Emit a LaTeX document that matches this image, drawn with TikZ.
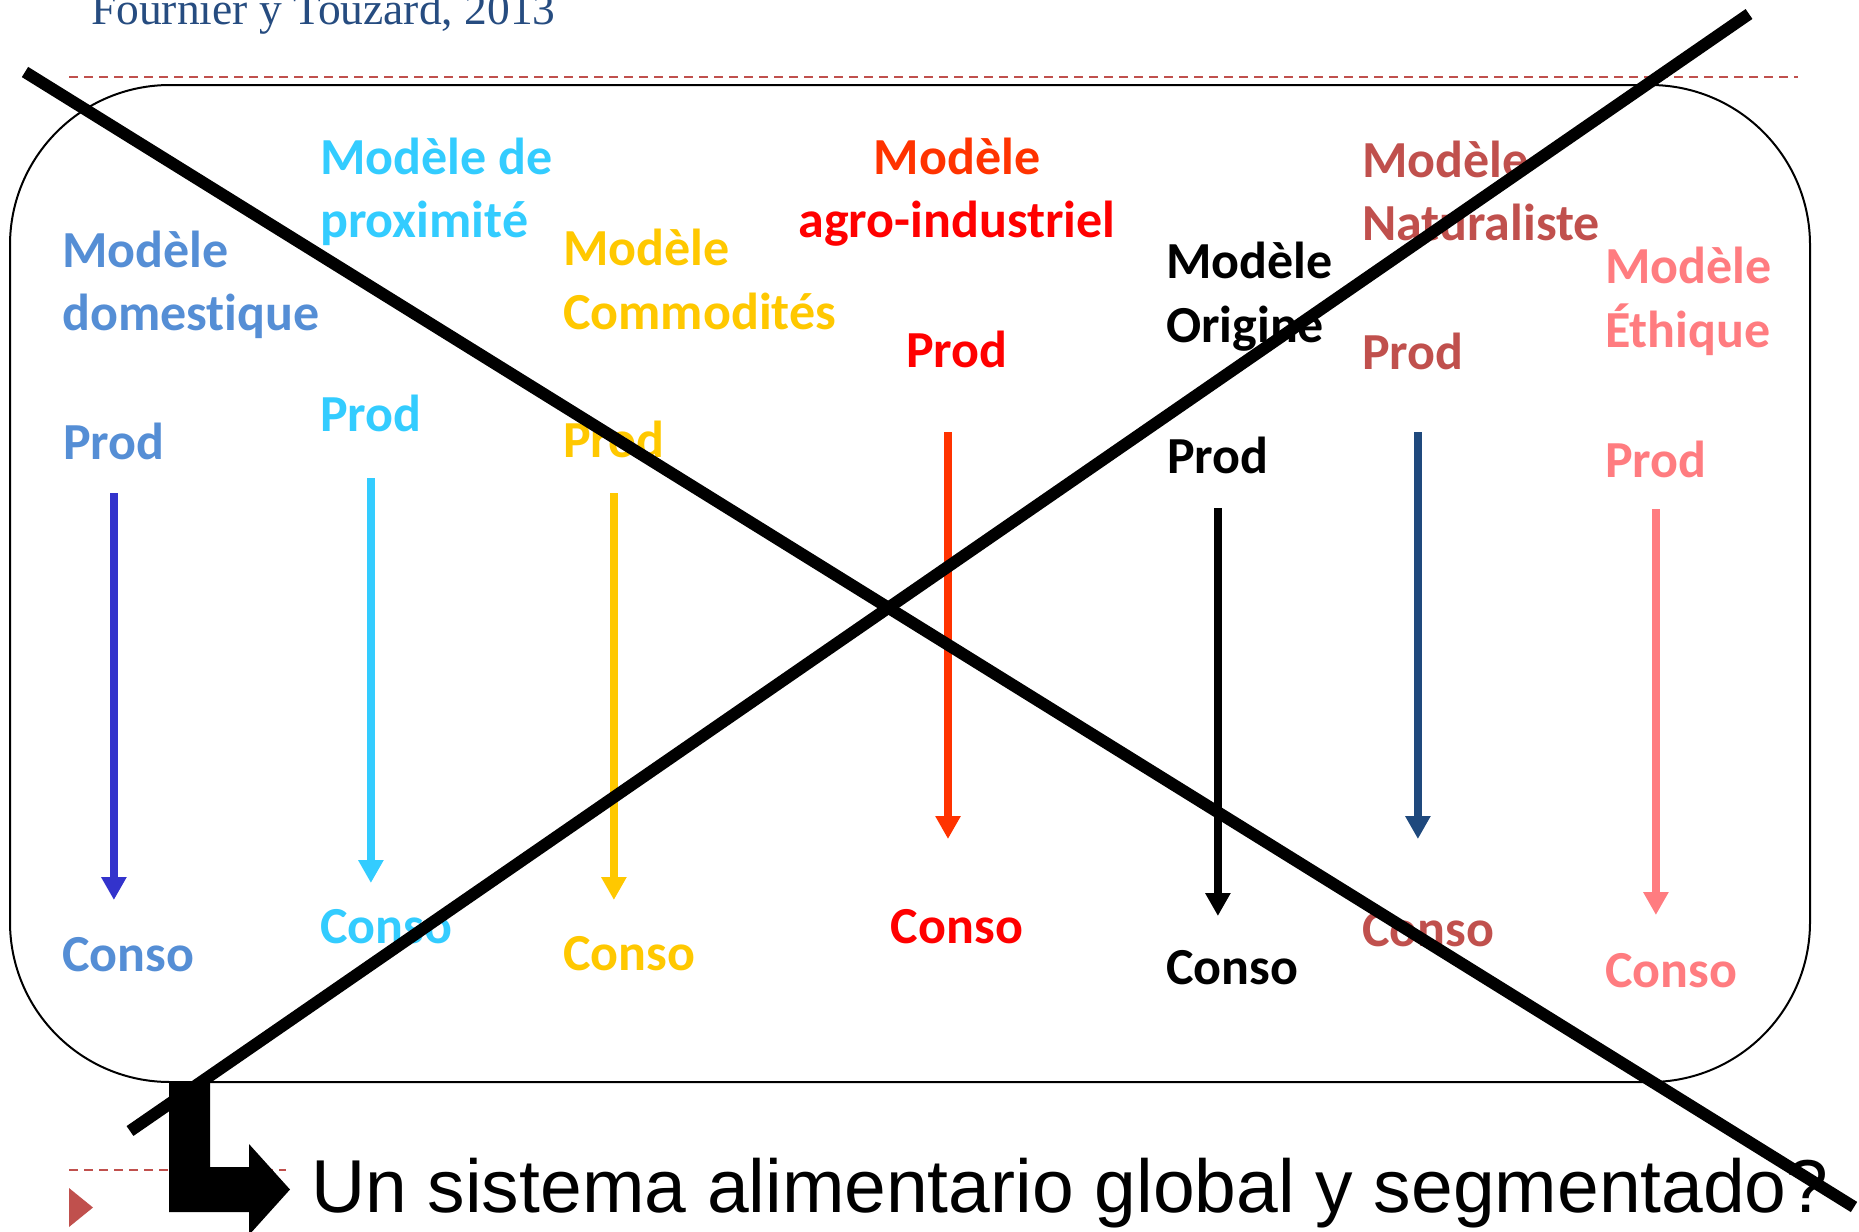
\documentclass[tikz,border=0pt]{standalone}
\usepackage{fontspec}
\setmainfont{Carlito}[Ligatures=NoCommon]
\newfontfamily\arialfont{Liberation Sans}
\newfontfamily\seriffont{Liberation Serif}
\usetikzlibrary{arrows.meta}
\definecolor{titleblue}{HTML}{264C80}
\definecolor{domblue}{HTML}{558ED5}
\definecolor{domarrow}{HTML}{3333CC}
\definecolor{proxblue}{HTML}{33CCFF}
\definecolor{commgold}{HTML}{FFC800}
\definecolor{agroorange}{HTML}{FF3300}
\definecolor{agrored}{HTML}{FF0000}
\definecolor{natured}{HTML}{C0504D}
\definecolor{natuarrow}{HTML}{1F497D}
\definecolor{ethipink}{HTML}{FF7C80}

\begin{document}
\begin{tikzpicture}[x=1pt, y=-1pt,
    lbl/.style={font=\fontsize{52}{62}\selectfont\bfseries, inner sep=0pt, anchor=base west},
    mid/.style={lbl, anchor=base},
    arr/.style={-{Triangle[width=24pt,length=23pt]}, line width=7.5pt},
    cross/.style={line width=12pt},
    sep/.style={draw=natured, line width=2pt, dash pattern=on 9pt off 6pt}]
    \useasboundingbox (0,0) rectangle (1859,1231);

    % source and frame
    \node[font=\seriffont\fontsize{45.5}{54}\selectfont, text=titleblue, inner sep=0pt, anchor=base west] (src) at (91,25) {Fournier y Touzard, 2013};
    \draw[sep] (69,77) -- (1798,77);
    \draw[sep] (69,1170) -- (286,1170);
    \draw[line width=2pt, rounded corners=160pt] (10,85) rectangle (1810,1082);

    % domestique
    \node[lbl, text=domblue] (domA) at (62,267) {Modèle};
    \node[lbl, text=domblue] (domB) at (62,330) {domestique};
    \node[lbl, text=domblue] (domP) at (63,459) {Prod};
    \node[lbl, text=domblue] (domC) at (62,971) {Conso};
    \draw[arr, domarrow, shorten <=34pt, shorten >=71pt] (domP.base) -- (domP.base |- domC.base);

    % proximite
    \node[lbl, text=proxblue] (proxA) at (320,174) {Modèle de};
    \node[lbl, text=proxblue] (proxB) at (320,237) {proximité};
    \node[lbl, text=proxblue] (proxP) at (320,431) {Prod};
    \node[lbl, text=proxblue] (proxC) at (320,943) {Conso};
    \draw[arr, proxblue, shorten <=47pt, shorten >=60pt] (proxP.base) -- (proxP.base |- proxC.base);

    % commodites
    \node[lbl, text=commgold] (commA) at (563,265) {Modèle};
    \node[lbl, text=commgold] (commB) at (563,329) {Commodités};
    \node[lbl, text=commgold] (commP) at (563,457) {Prod};
    \node[lbl, text=commgold] (commC) at (563,970) {Conso};
    \draw[arr, commgold, shorten <=36pt, shorten >=70pt] (commP.base) -- (commP.base |- commC.base);

    % agro-industriel
    \node[mid, text=agroorange] (agroA) at (957,174) {Modèle};
    \node[mid, text=agrored] (agroB) at (957,237) {agro-industriel};
    \node[mid, text=agrored] (agroP) at (957,367) {Prod};
    \node[mid, text=agrored] (agroC) at (957,943) {Conso};
    \draw[arr, agroorange, shorten <=65pt, shorten >=104pt] ([xshift=-9pt]agroP.base) -- ([xshift=-9pt]agroP.base |- agroC.base);

    % origine
    \node[lbl] (origA) at (1166,278) {Modèle};
    \node[lbl] (origB) at (1166,342) {Origine};
    \node[lbl] (origP) at (1167,473) {Prod};
    \node[lbl] (origC) at (1166,984) {Conso};
    \draw[arr, shorten <=35pt, shorten >=68pt] (origP.base) -- (origP.base |- origC.base);

    % naturaliste
    \node[lbl, text=natured] (natuA) at (1362,177) {Modèle};
    \node[lbl, text=natured] (natuB) at (1362,240) {Naturaliste};
    \node[lbl, text=natured] (natuP) at (1362,369) {Prod};
    \node[lbl, text=natured] (natuC) at (1362,946) {Conso};
    \draw[arr, natuarrow, shorten <=63pt, shorten >=107pt] ([xshift=5pt]natuP.base) -- ([xshift=5pt]natuP.base |- natuC.base);

    % ethique
    \node[lbl, text=ethipink] (ethiA) at (1605,283) {Modèle};
    \node[lbl, text=ethipink] (ethiB) at (1605,347) {Éthique};
    \node[lbl, text=ethipink] (ethiP) at (1605,477) {Prod};
    \node[lbl, text=ethipink] (ethiC) at (1605,987) {Conso};
    \draw[arr, ethipink, shorten <=32pt, shorten >=72pt] (ethiP.base) -- (ethiP.base |- ethiC.base);

    % the big cross
    \draw[cross] (25,72) -- (1854,1207);
    \draw[cross] (130,1131) -- (1749,14);

    % bullet, bent arrow and question
    \fill[natured] (69,1188) -- (93,1207.5) -- (69,1227) -- cycle;
    \fill (169,1081) -- (210,1081) -- (210,1167) -- (249,1167) -- (249,1144)
        -- (290,1189.5) -- (249,1235) -- (249,1212) -- (169,1212) -- cycle;
    \node[font=\arialfont\fontsize{75}{90}\selectfont, inner sep=0pt, anchor=base west] (question) at (311,1212) {Un sistema alimentario global y segmentado?};
\end{tikzpicture}
\end{document}
